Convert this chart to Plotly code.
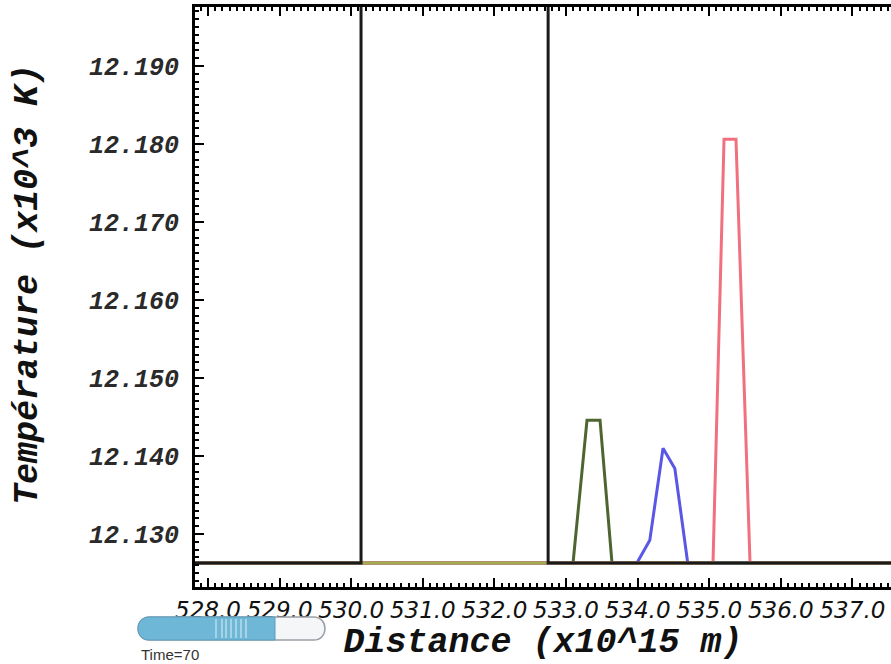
import plotly.graph_objects as go

# ---- data ----
black_x = [527.8, 530.137, 530.137, 532.75, 532.75, 537.6]
black_y = [12.1263, 12.1263, 12.30, 12.30, 12.1263, 12.1263]

green_x = [527.8, 533.098, 533.293, 533.475, 533.642, 537.6]
green_y = [12.1263, 12.1263, 12.1446, 12.1446, 12.1263, 12.1263]

blue_x = [527.8, 533.99, 534.17, 534.355, 534.52, 534.70, 537.6]
blue_y = [12.1263, 12.1263, 12.1292, 12.1410, 12.1384, 12.1263, 12.1263]

red_x = [527.8, 535.053, 535.207, 535.374, 535.57, 537.6]
red_y = [12.1263, 12.1263, 12.1806, 12.1806, 12.1263, 12.1263]

yellow_x = [527.8, 537.6]
yellow_y = [12.1263, 12.1263]

x_ticks = [528, 529, 530, 531, 532, 533, 534, 535, 536, 537]
x_labels = ["528.0", "529.0", "530.0", "531.0", "532.0", "533.0", "534.0", "535.0", "536.0", "537.0"]
y_ticks = [12.13, 12.14, 12.15, 12.16, 12.17, 12.18, 12.19]
y_labels = ["12.130", "12.140", "12.150", "12.160", "12.170", "12.180", "12.190"]
x_title = "Distance (x10^15 m)"
y_title = "Température (x10^3 K)"
time_label = "Time=70"

fig = go.Figure()
fig.add_trace(go.Scatter(x=green_x, y=green_y, mode="lines", line=dict(color="#4e6530", width=3)))
fig.add_trace(go.Scatter(x=blue_x, y=blue_y, mode="lines", line=dict(color="#5a56e6", width=3)))
fig.add_trace(go.Scatter(x=red_x, y=red_y, mode="lines", line=dict(color="#f0707e", width=3)))
fig.add_trace(go.Scatter(x=yellow_x, y=yellow_y, mode="lines", line=dict(color="#a6ab4c", width=3)))
fig.add_trace(go.Scatter(x=black_x, y=black_y, mode="lines", line=dict(color="#1a1a1a", width=3)))

mono = "Liberation Mono, Courier New, monospace"

fig.update_layout(
    width=891, height=664,
    margin=dict(l=195, r=0, t=7, b=77),
    paper_bgcolor="white", plot_bgcolor="white",
    showlegend=False,
    xaxis=dict(
        range=[527.818, 537.539], automargin=False,
        tickmode="array", tickvals=x_ticks, ticktext=x_labels,
        ticks="inside", ticklen=9, tickwidth=2, tickcolor="black",
        minor=dict(ticks="inside", ticklen=4, dtick=0.1, tick0=528, tickwidth=1.5, tickcolor="black"),
        showline=True, linecolor="black", linewidth=3, mirror="ticks",
        showgrid=False, zeroline=False,
        tickfont=dict(family="DejaVu Sans", size=23, color="#111", style="italic"),
        title=dict(text=x_title, standoff=4,
                   font=dict(family=mono, size=35, color="#111", weight="bold", style="italic")),
    ),
    yaxis=dict(
        range=[12.12321, 12.19756], automargin=False,
        tickmode="array", tickvals=y_ticks, ticktext=y_labels,
        ticks="inside", ticklen=9, tickwidth=2, tickcolor="black",
        minor=dict(ticks="inside", ticklen=4, dtick=0.001, tick0=12.13, tickwidth=1.5, tickcolor="black"),
        showline=True, linecolor="black", linewidth=3, mirror=False,
        showgrid=False, zeroline=False,
        ticklabelstandoff=8,
        tickfont=dict(family=mono, size=25, color="#2a2a2a", weight="bold", style="italic"),
    ),
)

# ---- decorations in paper coordinates ----
W, H = 696.0, 580.0
def px(xp):
    return (xp - 195) / W
def py(yp):
    return (587 - yp) / H

fig.add_annotation(text=y_title, xref="paper", yref="paper",
                   x=px(28), y=py(285), xanchor="center", yanchor="middle", textangle=-90,
                   showarrow=False,
                   font=dict(family=mono, size=35, color="#111", weight="bold", style="italic"))

xl, xr, xb = 138, 325, 275
yt, yb = 617, 640
r = 11.5

def pill_path(x0, x1, round_right=True):
    p = f"M {px(x0 + r)},{py(yt)} L {px(x1 - (r if round_right else 0))},{py(yt)} "
    if round_right:
        p += f"C {px(x1 + r*0.33)},{py(yt)} {px(x1 + r*0.33)},{py(yb)} {px(x1 - r)},{py(yb)} "
    else:
        p += f"L {px(x1)},{py(yb)} "
    p += f"L {px(x0 + r)},{py(yb)} "
    p += f"C {px(x0 - r*0.33)},{py(yb)} {px(x0 - r*0.33)},{py(yt)} {px(x0 + r)},{py(yt)} Z"
    return p

shapes = [
    dict(type="path", xref="paper", yref="paper", path=pill_path(xl, xr),
         fillcolor="#f4f6f8", line=dict(color="#9aa0a6", width=1.5), layer="above"),
    dict(type="path", xref="paper", yref="paper", path=pill_path(xl, xb, round_right=False),
         fillcolor="#6fb7d6", line=dict(color="#5a9fc0", width=1), layer="above"),
]
for sx in [216, 222, 226, 231, 236, 241, 246]:
    shapes.append(dict(type="line", xref="paper", yref="paper",
                       x0=px(sx), x1=px(sx), y0=py(yt + 2), y1=py(yb - 2),
                       line=dict(color="#dff0f8", width=1), layer="above"))
fig.update_layout(shapes=shapes)

fig.add_annotation(text=time_label, xref="paper", yref="paper",
                   x=px(139), y=py(654), xanchor="left", yanchor="middle",
                   showarrow=False, font=dict(family="Liberation Sans", size=15, color="#333"))

fig.write_html("out.html", config={"displayModeBar": False},
               post_script="document.body.style.margin='0';document.body.style.padding='0';")
